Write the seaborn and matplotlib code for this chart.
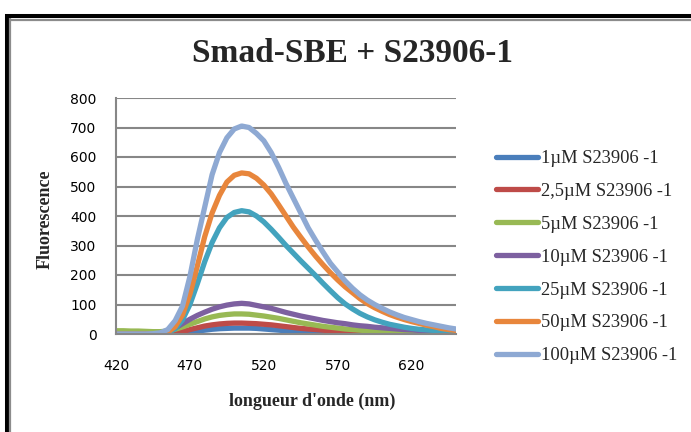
# Smad-SBE + S23906-1 : emission spectra for several concentrations
import matplotlib
matplotlib.use("Agg")
import pandas as pd
import matplotlib.pyplot as plt
import seaborn as sns
from matplotlib.lines import Line2D

# wavelength grid (nm), one reading every 5 nm
wavelengths = list(range(420, 655, 5))

# fluorescence
c_1 = [0, 0, 0, 0, 0, 0, 0, 0, 1, 3,
       6, 10, 13, 16, 18, 19, 20, 20, 20, 19,
       17, 15, 13, 11, 9, 8, 7, 6, 5, 4,
       3, 3, 2, 2, 2, 2, 2, 1, 1, 1,
       1, 1, 1, 1, 1, 1, 1]
c_2_5 = [0, 0, 0, 0, 0, 0, 0, 1, 3, 8,
         15, 21, 27, 31, 34, 36, 37, 37, 36, 35,
         33, 31, 28, 25, 22, 19, 17, 15, 13, 11,
         10, 9, 8, 7, 6, 5, 5, 4, 4, 3,
         3, 3, 2, 2, 2, 2, 2]
c_5 = [11, 11, 10, 10, 9, 8, 8, 10, 16, 24,
       33, 42, 51, 58, 63, 66, 68, 68, 67, 64,
       61, 57, 53, 48, 43, 38, 34, 30, 26, 23,
       20, 17, 15, 13, 11, 10, 9, 8, 7, 6,
       5, 5, 4, 4, 3, 3, 3]
c_10 = [0, 0, 0, 0, 0, 0, 2, 8, 20, 35,
        50, 63, 74, 84, 92, 98, 102, 104, 102, 97,
        92, 87, 80, 73, 67, 61, 56, 51, 46, 42,
        38, 35, 31, 28, 26, 23, 21, 19, 17, 15,
        14, 12, 11, 10, 9, 8, 8]
c_25 = [0, 0, 0, 0, 0, 0, 1, 4, 18, 48,
        100, 170, 245, 310, 360, 395, 412, 418, 414, 400,
        380, 355, 328, 300, 274, 248, 223, 198, 172, 147,
        123, 102, 85, 70, 58, 48, 40, 33, 28, 23,
        19, 16, 14, 12, 10, 9, 8]
c_50 = [0, 0, 0, 0, 0, 0, 1, 6, 25, 65,
        135, 230, 330, 410, 470, 515, 538, 546, 543, 528,
        505, 475, 438, 400, 362, 328, 295, 264, 235, 208,
        183, 160, 140, 120, 103, 89, 77, 66, 57, 49,
        42, 36, 30, 25, 19, 15, 12]
c_100 = [0, 0, 0, 0, 0, 1, 4, 15, 45, 95,
         195, 320, 430, 540, 615, 665, 695, 705, 700, 680,
         655, 615, 565, 510, 460, 410, 360, 318, 278, 240,
         210, 180, 155, 133, 115, 100, 87, 75, 65, 56,
         49, 42, 36, 31, 26, 21, 17]

labels = ["1\u00b5M S23906 -1", "2,5\u00b5M S23906 -1", "5\u00b5M S23906 -1",
          "10\u00b5M S23906 -1", "25\u00b5M S23906 -1", "50\u00b5M S23906 -1",
          "100\u00b5M S23906 -1"]
series = [c_1, c_2_5, c_5, c_10, c_25, c_50, c_100]
colors = ["#4A7EBB", "#BE4B48", "#98B954", "#7D60A0", "#43A3BE", "#E8863C", "#8EA9D3"]

rows = []
for lab, vals in zip(labels, series):
    for w, v in zip(wavelengths, vals):
        rows.append({"nm": w, "fluo": v, "serie": lab})
df = pd.DataFrame(rows)

sns.set_style("white")
plt.rcParams["font.family"] = ["DejaVu Sans"]
plt.rcParams["lines.solid_capstyle"] = "round"

fig = plt.figure(figsize=(6.91, 4.32), dpi=100)
ax = fig.add_axes([116 / 691, 1 - 334 / 432, 340 / 691, 236 / 432])

sns.lineplot(data=df, x="nm", y="fluo", hue="serie", hue_order=labels,
             palette=colors, linewidth=3.8, estimator=None, errorbar=None,
             sort=False, legend=False, ax=ax)

ax.set_xlim(420, 650)
ax.set_ylim(0, 800)
ax.set_xticks([420, 470, 520, 570, 620])
ax.set_yticks(range(0, 801, 100))
ax.set_xlabel("")
ax.set_ylabel("")
ax.yaxis.grid(True, color="#878787", linewidth=1.5)
ax.set_axisbelow(True)
for s in ["top", "right"]:
    ax.spines[s].set_visible(False)
for s in ["left", "bottom"]:
    ax.spines[s].set_color("#878787")
    ax.spines[s].set_linewidth(1.5)
ax.tick_params(length=0, labelsize=10, colors="black")
ax.tick_params(axis="y", pad=14)
ax.tick_params(axis="x", pad=18)

serif = "Liberation Serif"
fig.text(353 / 691, 1 - 54 / 432, "Smad-SBE + S23906-1", ha="center", va="center",
         fontsize=24, fontweight="bold", family=serif)
fig.text(45 / 691, 1 - 219 / 432, "Fluorescence", rotation=90, ha="center",
         va="center", fontsize=13, fontweight="bold", family=serif)
fig.text(312 / 691, 1 - 401 / 432, "longueur d'onde (nm)", ha="center",
         va="center", fontsize=13, fontweight="bold", family=serif)

ax.legend(ax.lines[:len(labels)], labels, loc="upper left",
          bbox_to_anchor=(496 / 691, 1 - 150 / 432), bbox_transform=fig.transFigure,
          frameon=False, prop={"family": serif, "size": 13.3}, handlelength=2.3,
          handletextpad=0.15, labelspacing=0.86, borderpad=0, borderaxespad=0)

# chart frame (cropped on right and bottom)
fig.add_artist(Line2D([5 / 691, 1], [1 - 16 / 432] * 2, transform=fig.transFigure,
                      color="black", linewidth=2.9, solid_capstyle="butt"))
fig.add_artist(Line2D([7 / 691] * 2, [0, 1 - 14 / 432], transform=fig.transFigure,
                      color="black", linewidth=2.9, solid_capstyle="butt"))
fig.add_artist(Line2D([9 / 691, 1], [1 - 19.5 / 432] * 2, transform=fig.transFigure,
                      color="#8c8c8c", linewidth=1.6, solid_capstyle="butt"))
fig.add_artist(Line2D([10.3 / 691] * 2, [0, 1 - 18.3 / 432], transform=fig.transFigure,
                      color="#8c8c8c", linewidth=1.6, solid_capstyle="butt"))

fig.savefig("out.png", dpi=100)
